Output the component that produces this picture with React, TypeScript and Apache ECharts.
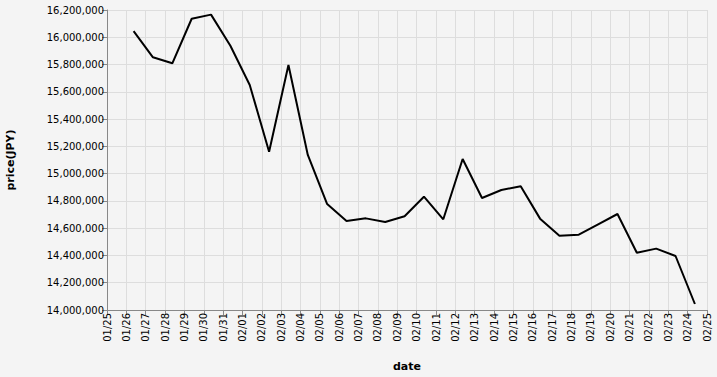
import React, { useEffect, useRef } from "react";
import * as echarts from "echarts";

// Daily observations (plotted at 09:00 of each day, as in the reference)
const dates = [
  "2025-01-26", "2025-01-27", "2025-01-28", "2025-01-29", "2025-01-30", "2025-01-31",
  "2025-02-01", "2025-02-02", "2025-02-03", "2025-02-04", "2025-02-05", "2025-02-06",
  "2025-02-07", "2025-02-08", "2025-02-09", "2025-02-10", "2025-02-11", "2025-02-12",
  "2025-02-13", "2025-02-14", "2025-02-15", "2025-02-16", "2025-02-17", "2025-02-18",
  "2025-02-19", "2025-02-20", "2025-02-21", "2025-02-22", "2025-02-23", "2025-02-24",
];
const prices = [
  16045000, 15853000, 15809000, 16136000, 16166000, 15938000,
  15650000, 15161000, 15797000, 15137000, 14777000, 14653000,
  14672000, 14645000, 14687000, 14831000, 14665000, 15107000,
  14821000, 14880000, 14907000, 14670000, 14545000, 14552000,
  14628000, 14704000, 14420000, 14450000, 14396000, 14044000,
];
const xStart = "2025-01-25";
const xEnd = "2025-02-25";
const yMin = 14000000;
const yMax = 16200000;
const yStep = 200000;

const DAY = 86400000;
const FONT = "DejaVu Sans";

export default function App() {
  const ref = useRef<HTMLDivElement>(null);
  useEffect(() => {
    document.body.style.margin = "0";
    const chart = echarts.init(ref.current!, null, { renderer: "svg" });
    const data = dates.map((d, i) => [Date.parse(d + "T09:00:00Z"), prices[i]]);
    chart.setOption({
      animation: false,
      backgroundColor: "#f4f4f4",
      grid: { left: 107, right: 10, top: 10, bottom: 67, containLabel: false, outerBoundsMode: "none" },
      xAxis: {
        type: "value",
        min: Date.parse(xStart + "T00:00:00Z"),
        max: Date.parse(xEnd + "T00:00:00Z"),
        interval: DAY,
        name: "date",
        nameLocation: "middle",
        nameGap: 51,
        nameTextStyle: { fontFamily: FONT, fontSize: 11, fontWeight: "bold", color: "#000" },
        axisLine: { show: true, lineStyle: { color: "#888", width: 1 } },
        axisTick: { show: true, length: 5, lineStyle: { color: "#888" } },
        splitLine: { show: true, lineStyle: { color: "#dddddd", width: 1 } },
        axisLabel: {
          rotate: 90,
          margin: 3,
          fontFamily: FONT,
          fontSize: 10,
          color: "#000",
          showMinLabel: true,
          showMaxLabel: true,
          formatter: (v: number) => {
            const d = new Date(v);
            const mm = String(d.getUTCMonth() + 1).padStart(2, "0");
            const dd = String(d.getUTCDate()).padStart(2, "0");
            return mm + "/" + dd;
          },
        },
      },
      yAxis: {
        type: "value",
        min: yMin,
        max: yMax,
        interval: yStep,
        name: "price(JPY)",
        nameLocation: "middle",
        nameRotate: 90,
        nameGap: 91,
        nameTextStyle: { fontFamily: FONT, fontSize: 11, fontWeight: "bold", color: "#000" },
        axisLine: { show: true, lineStyle: { color: "#888", width: 1 } },
        axisTick: { show: true, length: 5, lineStyle: { color: "#888" } },
        splitLine: { show: true, lineStyle: { color: "#dddddd", width: 1 } },
        axisLabel: {
          margin: 3,
          fontFamily: FONT,
          fontSize: 10,
          color: "#000",
          formatter: (v: number) => v.toLocaleString("en-US"),
        },
      },
      series: [
        {
          type: "line",
          data,
          showSymbol: false,
          symbol: "none",
          lineStyle: { color: "#000", width: 2 },
        },
      ],
    });
    return () => chart.dispose();
  }, []);
  return <div ref={ref} style={{ width: 717, height: 377 }} />;
}
